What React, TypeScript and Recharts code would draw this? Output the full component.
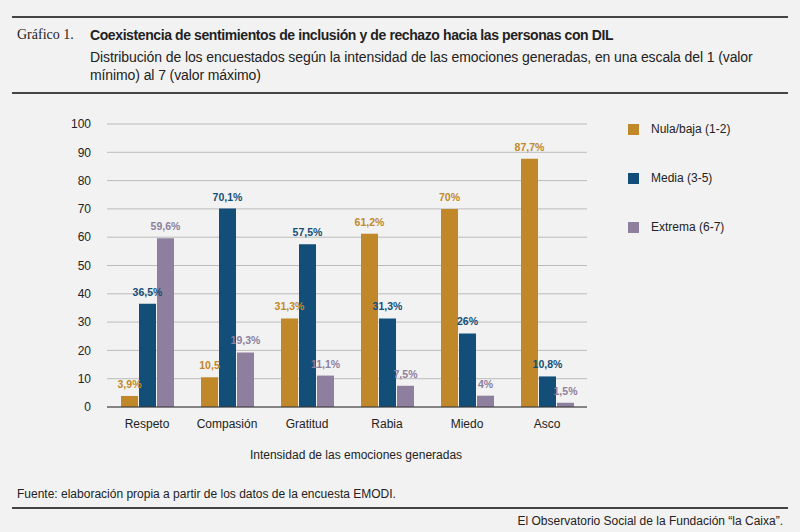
import React from 'react';
import { BarChart, Bar, XAxis, YAxis, CartesianGrid, LabelList } from 'recharts';

const categories = ['Respeto', 'Compasión', 'Gratitud', 'Rabia', 'Miedo', 'Asco'];
const nula = [3.9, 10.5, 31.3, 61.2, 70, 87.7];
const media = [36.5, 70.1, 57.5, 31.3, 26, 10.8];
const extrema = [59.6, 19.3, 11.1, 7.5, 4, 1.5];
const nulaLabels = ['3,9%', '10,5', '31,3%', '61,2%', '70%', '87,7%'];
const mediaLabels = ['36,5%', '70,1%', '57,5%', '31,3%', '26%', '10,8%'];
const extremaLabels = ['59,6%', '19,3%', '11,1%', '7,5%', '4%', '1,5%'];
const yTicks = [0, 10, 20, 30, 40, 50, 60, 70, 80, 90, 100];

const data = categories.map((c, i) => ({
  name: c, nula: nula[i], media: media[i], extrema: extrema[i],
  nl: nulaLabels[i], ml: mediaLabels[i], el: extremaLabels[i],
}));

const C1 = '#c08828', C2 = '#124e78', C3 = '#8e7f9e';
const font = 'Arial, "Liberation Sans", sans-serif';

const legend = [
  { label: 'Nula/baja (1-2)', color: C1, top: 122 },
  { label: 'Media (3-5)', color: C2, top: 171 },
  { label: 'Extrema (6-7)', color: C3, top: 220 },
];

export default function App() {
  return (
    <div style={{ position: 'absolute', left: 0, top: 0, width: 800, height: 532, background: '#f2f2f2', fontFamily: font, color: '#222', overflow: 'hidden' }}>
      <div style={{ position: 'absolute', left: 12, right: 12, top: 16, height: 2, background: '#444' }} />
      <div style={{ position: 'absolute', left: 17, top: 27, fontSize: 14, fontFamily: '"Liberation Serif", serif' }}>Gráfico 1.</div>
      <div style={{ position: 'absolute', left: 90, top: 27, fontSize: 14, fontWeight: 'bold', letterSpacing: -0.4 }}>Coexistencia de sentimientos de inclusión y de rechazo hacia las personas con DIL</div>
      <div style={{ position: 'absolute', left: 90, top: 48, width: 680, fontSize: 14, lineHeight: '18px', letterSpacing: -0.1 }}>Distribución de los encuestados según la intensidad de las emociones generadas, en una escala del 1 (valor mínimo) al 7 (valor máximo)</div>
      <div style={{ position: 'absolute', left: 12, right: 12, top: 92, height: 2, background: '#444' }} />
      <div style={{ position: 'absolute', left: 0, top: 105 }}>
        <BarChart width={600} height={332} data={data} margin={{ top: 19, right: 13, left: 0, bottom: 0 }} barSize={17} barGap={1}>
          <CartesianGrid vertical={false} stroke="#bcbcbc" />
          <XAxis dataKey="name" tickLine={false} axisLine={{ stroke: '#333' }} tick={{ fill: '#222', fontSize: 12, fontFamily: font }} tickMargin={6} />
          <YAxis domain={[0, 100]} ticks={yTicks} width={107} axisLine={false} tickLine={false} tick={{ fill: '#222', fontSize: 12, fontFamily: font }} tickMargin={10} />
          <Bar dataKey="nula" fill={C1} isAnimationActive={false}>
            <LabelList dataKey="nl" position="top" offset={8} style={{ fill: C1, fontSize: 10.5, fontWeight: 'bold', fontFamily: font }} />
          </Bar>
          <Bar dataKey="media" fill={C2} isAnimationActive={false}>
            <LabelList dataKey="ml" position="top" offset={8} style={{ fill: C2, fontSize: 10.5, fontWeight: 'bold', fontFamily: font }} />
          </Bar>
          <Bar dataKey="extrema" fill={C3} isAnimationActive={false}>
            <LabelList dataKey="el" position="top" offset={8} style={{ fill: C3, fontSize: 10.5, fontWeight: 'bold', fontFamily: font }} />
          </Bar>
        </BarChart>
      </div>
      {legend.map((l) => (
        <div key={l.label} style={{ position: 'absolute', left: 628, top: l.top, display: 'flex', alignItems: 'center', fontSize: 12 }}>
          <div style={{ width: 11, height: 11, background: l.color, marginRight: 12 }} />
          {l.label}
        </div>
      ))}
      <div style={{ position: 'absolute', left: 0, width: 700, top: 448, textAlign: 'center', fontSize: 12, paddingLeft: 6 }}>Intensidad de las emociones generadas</div>
      <div style={{ position: 'absolute', left: 17, top: 487, fontSize: 12 }}>Fuente: elaboración propia a partir de los datos de la encuesta EMODI.</div>
      <div style={{ position: 'absolute', left: 12, right: 12, top: 507, height: 2, background: '#444' }} />
      <div style={{ position: 'absolute', right: 17, top: 514, fontSize: 12 }}>El Observatorio Social de la Fundación “la Caixa”.</div>
    </div>
  );
}
